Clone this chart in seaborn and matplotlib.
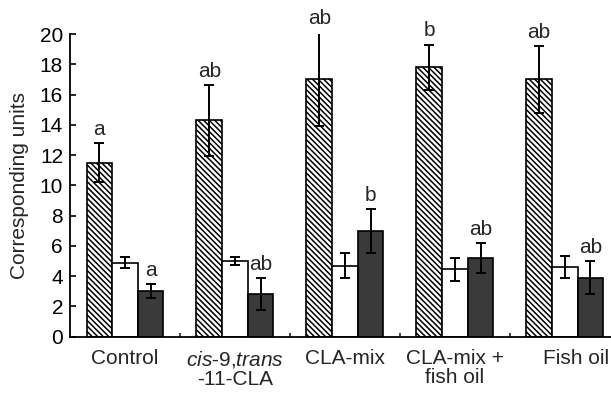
import matplotlib
matplotlib.use("Agg")
import matplotlib.pyplot as plt
import matplotlib.transforms as mtransforms
import seaborn as sns
import pandas as pd

# ---- data ----
groups = ["Control", "cis-9,trans-11-CLA", "CLA-mix", "CLA-mix + fish oil", "Fish oil"]
tick_labels = ["Control", "$\\it{cis}$-9,$\\it{trans}$\n-11-CLA", "CLA-mix",
               "CLA-mix +\nfish oil", "Fish oil"]
series = ["hatched", "white", "dark"]
hatched = [11.5, 14.3, 17.0, 17.8, 17.0]
hatched_err = [1.3, 2.35, 3.1, 1.5, 2.2]
white = [4.9, 5.0, 4.7, 4.45, 4.6]
white_err = [0.35, 0.25, 0.85, 0.75, 0.75]
dark = [3.0, 2.8, 7.0, 5.2, 3.9]
dark_err = [0.45, 1.05, 1.45, 1.0, 1.07]
hatched_letters = ["a", "ab", "ab", "b", "ab"]
dark_letters = ["a", "ab", "b", "ab", "ab"]

sns.set_style("ticks")
plt.rcParams["font.family"] = ["Liberation Sans", "DejaVu Sans"]
plt.rcParams["mathtext.fontset"] = "custom"
plt.rcParams["mathtext.rm"] = "Liberation Sans"
plt.rcParams["mathtext.it"] = "Liberation Sans:italic"
plt.rcParams["hatch.linewidth"] = 1.1
plt.rcParams["hatch.color"] = "black"

df = pd.DataFrame({
    "group": groups * 3,
    "series": [s for s in series for _ in groups],
    "value": hatched + white + dark,
})

fig = plt.figure(figsize=(6.11, 3.94), dpi=100)
ax = fig.add_axes([0.1146, 0.1454, 0.8854, 0.7683])

sns.barplot(data=df, x="group", y="value", hue="series", order=groups,
            hue_order=series,
            palette={"hatched": "white", "white": "white", "dark": "#3a3a3a"},
            width=0.7, errorbar=None, edgecolor="black", linewidth=1.2,
            saturation=1, legend=False, ax=ax)

for bar in ax.containers[0]:
    bar.set_hatch("\\" * 6)

errs = [hatched_err, white_err, dark_err]
for cont, vals, err in zip(ax.containers, [hatched, white, dark], errs):
    xs = [b.get_x() + b.get_width() / 2 for b in cont]
    ax.errorbar(xs, vals, yerr=err, fmt="none", ecolor="black",
                elinewidth=1.4, capsize=3.3, capthick=1.4, zorder=5)

fs = 15
for letters, cont, vals, err in [(hatched_letters, ax.containers[0], hatched, hatched_err),
                                 (dark_letters, ax.containers[2], dark, dark_err)]:
    for lab, b, v, e in zip(letters, cont, vals, err):
        ax.annotate(lab, xy=(b.get_x() + b.get_width() / 2, v + e),
                    xytext=(0, 3), textcoords="offset points",
                    ha="center", va="bottom", fontsize=fs,
                    annotation_clip=False, zorder=6)

ax.set_xlim(-0.5, 4.42)
ax.set_ylim(0, 20)
ax.set_yticks(range(0, 21, 2))
ax.set_xticks(range(len(groups)))
ax.set_xticklabels(tick_labels, fontsize=fs, linespacing=1.0)
ax.set_xticks([0.5, 1.5, 2.5, 3.5], minor=True)
ax.tick_params(axis="y", direction="in", length=4, width=1.2, pad=5,
               labelsize=fs, colors="black")
ax.tick_params(axis="x", which="major", length=0, pad=9)
ax.tick_params(axis="x", which="minor", direction="in", length=3, width=1.2)
ax.set_xlabel("")
ax.set_ylabel("Corresponding units", fontsize=fs, labelpad=8)
sns.despine(ax=ax)
for sp in ["left", "bottom"]:
    ax.spines[sp].set_linewidth(1.3)
    ax.spines[sp].set_color("black")

# shift last tick label slightly right as in reference
lab = ax.get_xticklabels()[-1]
lab.set_transform(lab.get_transform() + mtransforms.ScaledTranslation(0.11, 0, fig.dpi_scale_trans))

fig.savefig("out.png", dpi=100)
